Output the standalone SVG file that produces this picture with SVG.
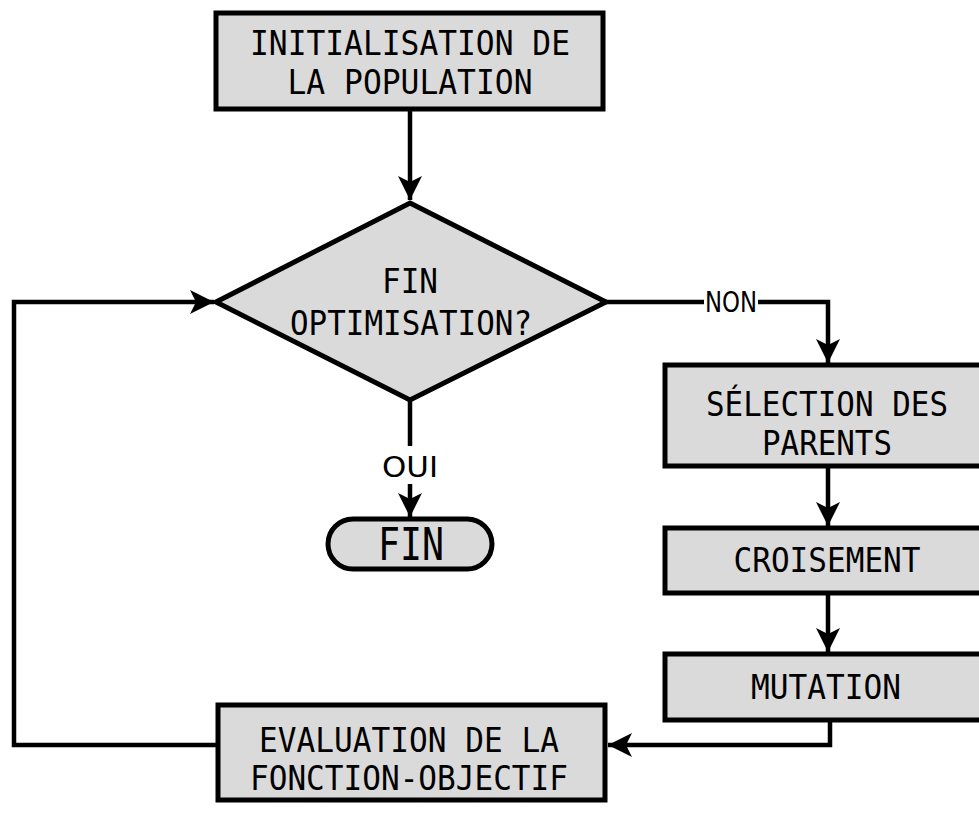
<svg xmlns="http://www.w3.org/2000/svg" width="979" height="832" viewBox="0 0 979 832">
<defs>
<marker id="ah" markerUnits="userSpaceOnUse" markerWidth="26" markerHeight="24" refX="24" refY="12" orient="auto">
<path d="M0,0 L24,12 L0,24 L6,12 z" fill="#000"/>
</marker>
<style>
.box{fill:#dadada;stroke:#000;stroke-width:5}
.t{font-family:"DejaVu Sans Mono","Liberation Mono",monospace;font-size:34px;text-anchor:middle;fill:#000}
.lbl{font-family:"DejaVu Sans","Liberation Sans",sans-serif;font-size:28px;text-anchor:middle;fill:#000}
.c{fill:none;stroke:#000;stroke-width:4.5}
</style>
</defs>
<rect width="979" height="832" fill="#fff"/>
<g id="connectors">
<path class="c" d="M410,109 V200" marker-end="url(#ah)"/>
<path class="c" d="M218,745 H14 V302 H214" marker-end="url(#ah)"/>
<path class="c" d="M606,302 H704"/>
<path class="c" d="M758,302 H828 V363" marker-end="url(#ah)"/>
<path class="c" d="M828,466 V526" marker-end="url(#ah)"/>
<path class="c" d="M828,593 V652" marker-end="url(#ah)"/>
<path class="c" d="M830,720 V745 H608" marker-end="url(#ah)"/>
<path class="c" d="M410,400 V446"/>
<path class="c" d="M410,484 V517" marker-end="url(#ah)"/>
<text class="lbl" x="731" y="312" textLength="52" lengthAdjust="spacingAndGlyphs">NON</text>
<text class="lbl" x="410" y="477" textLength="56" lengthAdjust="spacingAndGlyphs">OUI</text>
</g>
<g id="init">
<rect class="box" x="216" y="13" width="387" height="96"/>
<text class="t" x="410" y="55" textLength="320" lengthAdjust="spacingAndGlyphs">INITIALISATION DE</text>
<text class="t" x="410" y="94" textLength="245" lengthAdjust="spacingAndGlyphs">LA POPULATION</text>
</g>
<g id="decision">
<polygon class="box" points="410,203 606,302 410,400 216,302"/>
<text class="t" x="410" y="293" textLength="56" lengthAdjust="spacingAndGlyphs">FIN</text>
<text class="t" x="411" y="335" textLength="242" lengthAdjust="spacingAndGlyphs">OPTIMISATION?</text>
</g>
<g id="selection">
<rect class="box" x="665" y="365" width="326" height="101"/>
<text class="t" x="827" y="416" style="font-size:33px" textLength="242" lengthAdjust="spacingAndGlyphs">SÉLECTION DES</text>
<text class="t" x="827" y="455" style="font-size:33px" textLength="130" lengthAdjust="spacingAndGlyphs">PARENTS</text>
</g>
<g id="croisement">
<rect class="box" x="665" y="528" width="326" height="65"/>
<text class="t" x="827" y="572" textLength="187" lengthAdjust="spacingAndGlyphs">CROISEMENT</text>
</g>
<g id="mutation">
<rect class="box" x="665" y="654" width="326" height="66"/>
<text class="t" x="826" y="699" textLength="150" lengthAdjust="spacingAndGlyphs">MUTATION</text>
</g>
<g id="evaluation">
<rect class="box" x="218" y="705" width="387" height="95"/>
<text class="t" x="409" y="752" textLength="300" lengthAdjust="spacingAndGlyphs">EVALUATION DE LA</text>
<text class="t" x="409" y="790" textLength="318" lengthAdjust="spacingAndGlyphs">FONCTION-OBJECTIF</text>
</g>
<g id="fin">
<rect class="box" x="328" y="519" width="164" height="50" rx="25" ry="25"/>
<text class="t" x="411" y="560" style="font-size:44px" textLength="66" lengthAdjust="spacingAndGlyphs">FIN</text>
</g>
</svg>
